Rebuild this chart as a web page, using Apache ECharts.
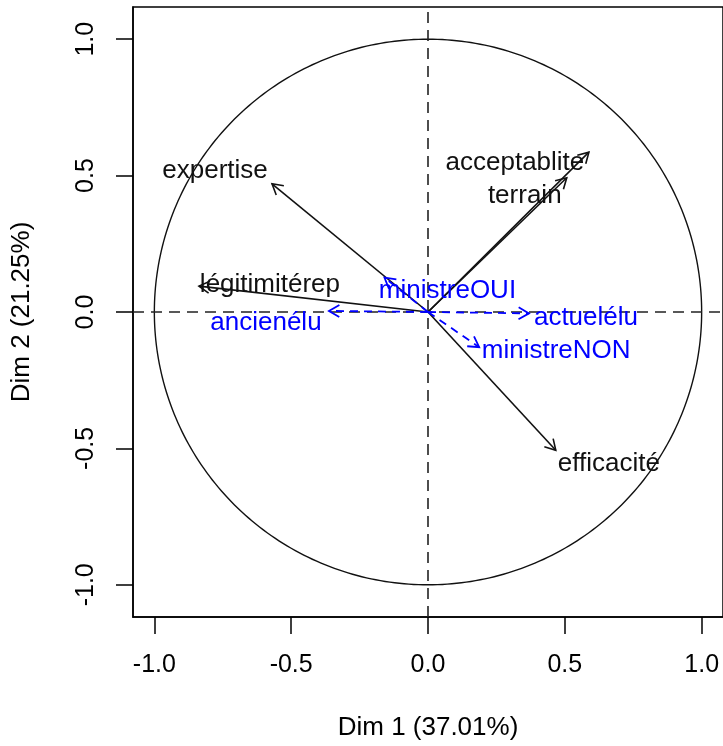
<!DOCTYPE html>
<html>
<head>
<meta charset="utf-8">
<script src="https://cdn.jsdelivr.net/npm/echarts@6/dist/echarts.min.js"></script>
<style>
  html, body { margin: 0; padding: 0; background: #fff; }
  #chart { width: 723px; height: 746px; }
</style>
</head>
<body>
<div id="chart"></div>
<script>
// active variables (black arrows)
const activeNames = ['expertise', 'légitimitérep', 'acceptablite', 'terrain', 'efficacité']
const activeDim1 = [-0.570, -0.837, 0.588, 0.507, 0.467]
const activeDim2 = [0.470, 0.095, 0.586, 0.492, -0.507]
// supplementary variables (blue dashed arrows)
const suppNames = ['ministreOUI', 'ancienélu', 'actuelélu', 'ministreNON']
const suppDim1 = [-0.159, -0.362, 0.369, 0.187]
const suppDim2 = [0.126, 0.004, -0.005, -0.129]
const tickValues = [-1, -0.5, 0, 0.5, 1]
const xTitle = 'Dim 1 (37.01%)'
const yTitle = 'Dim 2 (21.25%)'

// where each label sits relative to its arrow tip (px)
const activeLabelOffset = [[-57, -13], [71, -1], [-74, 11], [-42, 18], [53, 14]]
const suppLabelOffset = [[63, 13], [-63, 12], [57, 4], [77, 4]]

const xMin = -1.078, xMax = 1.078
const yMin = -1.118, yMax = 1.118
const font = '"Liberation Sans", Arial, Helvetica, sans-serif'

function arrowRenderer(names, offsets, color, dash, width) {
  return function (params, api) {
    const o = api.coord([0, 0])
    const p = api.coord([api.value(0), api.value(1)])
    const a = Math.atan2(p[1] - o[1], p[0] - o[0])
    const L = 12, w = Math.PI / 6
    const h1 = [p[0] - L * Math.cos(a - w), p[1] - L * Math.sin(a - w)]
    const h2 = [p[0] - L * Math.cos(a + w), p[1] - L * Math.sin(a + w)]
    const off = offsets[params.dataIndex]
    const style = { stroke: color, lineWidth: width, lineDash: dash, fill: null }
    return {
      type: 'group',
      children: [
        { type: 'line', shape: { x1: o[0], y1: o[1], x2: p[0], y2: p[1] }, style: style },
        { type: 'polyline', shape: { points: [h1, p, h2] }, style: { stroke: color, lineWidth: width, fill: null } },
        {
          type: 'text',
          x: p[0] + off[0],
          y: p[1] + off[1],
          style: {
            text: names[params.dataIndex],
            fill: color,
            fontSize: 26,
            fontFamily: font,
            align: 'center',
            verticalAlign: 'middle',
          },
        },
      ],
    }
  }
}

function circleRenderer(params, api) {
  const pts = []
  for (let i = 0; i <= 360; i++) {
    const t = (i * Math.PI) / 180
    pts.push(api.coord([Math.cos(t), Math.sin(t)]))
  }
  const h0 = api.coord([xMin, 0]), h1 = api.coord([xMax, 0])
  const v0 = api.coord([0, yMin]), v1 = api.coord([0, yMax])
  const dashStyle = { stroke: '#222', lineWidth: 1.6, lineDash: [11, 7], fill: null }
  return {
    type: 'group',
    children: [
      { type: 'polyline', shape: { points: pts }, style: { stroke: '#111', lineWidth: 1.4, fill: null } },
      { type: 'line', shape: { x1: h0[0], y1: h0[1], x2: h1[0], y2: h1[1] }, style: dashStyle },
      { type: 'line', shape: { x1: v0[0], y1: v0[1], x2: v1[0], y2: v1[1] }, style: dashStyle },
    ],
  }
}

const axisCommon = {
  type: 'value',
  nameLocation: 'middle',
  nameGap: 98,
  nameTextStyle: { fontSize: 26, color: '#000', fontFamily: font },
  axisLine: { show: true, onZero: false, lineStyle: { color: '#000', width: 1.5 } },
  axisTick: { show: true, length: 17, customValues: tickValues, lineStyle: { color: '#000', width: 1.5 } },
  splitLine: { show: false },
}

const option = {
  animation: false,
  backgroundColor: '#fff',
  grid: {
    left: 133, top: 7, width: 591, height: 612,
    show: true, borderColor: '#000', borderWidth: 1.5,
  },
  xAxis: Object.assign({}, axisCommon, {
    min: xMin, max: xMax, name: xTitle,
    axisLabel: {
      customValues: tickValues,
      formatter: (v) => v.toFixed(1),
      fontSize: 25, color: '#000', fontFamily: font, margin: 36,
    },
  }),
  yAxis: Object.assign({}, axisCommon, {
    min: yMin, max: yMax, name: yTitle,
    axisLabel: {
      customValues: tickValues,
      formatter: (v) => v.toFixed(1),
      rotate: 90,
      fontSize: 25, color: '#000', fontFamily: font, margin: 34,
    },
  }),
  series: [
    { type: 'custom', silent: true, renderItem: circleRenderer, data: [[0, 0]] },
    {
      type: 'custom', silent: true,
      renderItem: arrowRenderer(activeNames, activeLabelOffset, '#111', null, 1.6),
      data: activeDim1.map((x, i) => [x, activeDim2[i]]),
    },
    {
      type: 'custom', silent: true,
      renderItem: arrowRenderer(suppNames, suppLabelOffset, '#0000ff', [8, 6], 1.8),
      data: suppDim1.map((x, i) => [x, suppDim2[i]]),
    },
  ],
}

const myChart = echarts.init(document.getElementById('chart'))
myChart.setOption(option)
</script>
</body>
</html>
